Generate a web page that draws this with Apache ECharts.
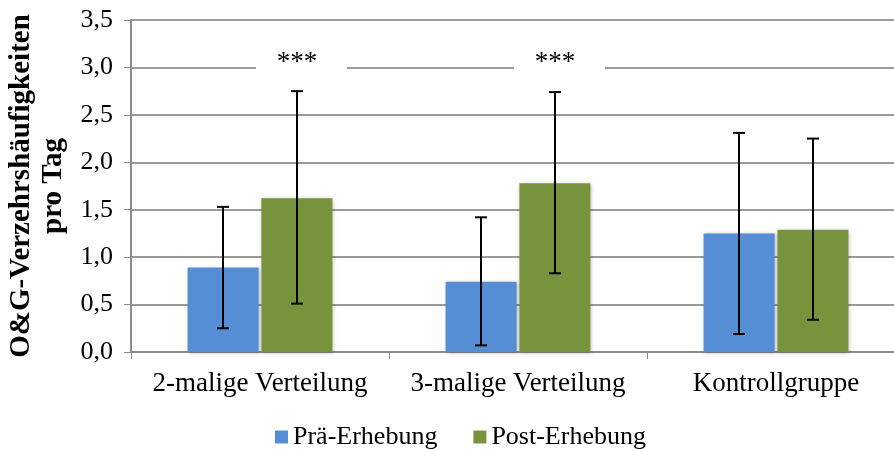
<!DOCTYPE html>
<html>
<head>
<meta charset="utf-8">
<script src="https://cdn.jsdelivr.net/npm/echarts@6/dist/echarts.min.js"></script>
<style>html,body{margin:0;padding:0;background:#fff}#c{width:894px;height:452px}</style>
</head>
<body>
<div id="c"></div>
<script>
var categories = ['2-malige Verteilung', '3-malige Verteilung', 'Kontrollgruppe'];
var seriesNames = ['Prä-Erhebung', 'Post-Erhebung'];
var preValues = [0.89, 0.74, 1.25];
var postValues = [1.62, 1.78, 1.29];
var preLow = [0.25, 0.07, 0.19];
var preHigh = [1.53, 1.42, 2.31];
var postLow = [0.51, 0.83, 0.34];
var postHigh = [2.75, 2.74, 2.25];
var yTicks = ['0,0', '0,5', '1,0', '1,5', '2,0', '2,5', '3,0', '3,5'];
var sigCats = [0, 1];
var sigLevel = 3.0;
var sigText = '***';

var FONT = '"Liberation Serif", "Times New Roman", serif';
var BAR_W = 71;
var BAR_OFF = 37;

function errData(lo, hi) {
  return categories.map(function (c, i) { return [i, lo[i], hi[i]]; });
}
function errRender(off) {
  return function (params, api) {
    var x = api.coord([api.value(0), 0])[0] + off;
    var yl = api.coord([api.value(0), api.value(1)])[1];
    var yh = api.coord([api.value(0), api.value(2)])[1];
    var st = { stroke: '#000', lineWidth: 2 };
    return {
      type: 'group',
      children: [
        { type: 'line', shape: { x1: x, y1: yl, x2: x, y2: yh }, style: st },
        { type: 'line', shape: { x1: x - 6, y1: yl, x2: x + 6, y2: yl }, style: st },
        { type: 'line', shape: { x1: x - 6, y1: yh, x2: x + 6, y2: yh }, style: st }
      ]
    };
  };
}

var chart = echarts.init(document.getElementById('c'), null, { renderer: 'canvas' });
chart.setOption({
  animation: false,
  backgroundColor: '#fff',
  textStyle: { fontFamily: FONT },
  grid: { left: 131, right: -11, top: 20, bottom: 100, containLabel: false, outerBoundsMode: 'none' },
  legend: {
    top: 419,
    left: 270,
    itemWidth: 13,
    itemHeight: 13,
    itemGap: 36,
    icon: 'rect',
    textStyle: { fontFamily: FONT, fontSize: 26, color: '#000' },
    data: seriesNames
  },
  xAxis: {
    type: 'category',
    data: categories,
    axisLine: { lineStyle: { color: '#8c8c8c', width: 2 } },
    axisTick: { show: true, length: 7, lineStyle: { color: '#8c8c8c', width: 1 } },
    axisLabel: { fontFamily: FONT, fontSize: 27, color: '#000', margin: 18, interval: 0, hideOverlap: false },
    splitLine: { show: false }
  },
  yAxis: {
    type: 'value',
    min: 0,
    max: 3.5,
    interval: 0.5,
    name: 'O&G-Verzehrshäufigkeiten\npro Tag',
    nameLocation: 'middle',
    nameRotate: 90,
    nameGap: 61,
    nameTextStyle: { fontFamily: FONT, fontSize: 29, fontWeight: 'bold', color: '#000', lineHeight: 32 },
    axisLine: { show: true, lineStyle: { color: '#8c8c8c', width: 2 } },
    axisTick: { show: true, length: 7, lineStyle: { color: '#8c8c8c', width: 1 } },
    axisLabel: {
      fontFamily: FONT, fontSize: 26, color: '#000', margin: 18,
      formatter: function (v) { return yTicks[Math.round(v / 0.5)]; }
    },
    splitLine: { show: true, lineStyle: { color: '#9a9a9a', width: 2 } }
  },
  series: [
    {
      name: seriesNames[0], type: 'bar', data: preValues, barWidth: BAR_W, barGap: '4%',
      itemStyle: { color: '#558ED5', shadowColor: 'rgba(0,0,0,0.25)', shadowBlur: 4, shadowOffsetX: 1, shadowOffsetY: 1 }
    },
    {
      name: seriesNames[1], type: 'bar', data: postValues, barWidth: BAR_W, barGap: '4%',
      itemStyle: { color: '#77933C', shadowColor: 'rgba(0,0,0,0.25)', shadowBlur: 4, shadowOffsetX: 1, shadowOffsetY: 1 }
    },
    {
      type: 'custom', name: 'errPre', data: errData(preLow, preHigh),
      renderItem: errRender(-BAR_OFF), z: 5, silent: true, legendHoverLink: false
    },
    {
      type: 'custom', name: 'errPost', data: errData(postLow, postHigh),
      renderItem: errRender(BAR_OFF), z: 5, silent: true, legendHoverLink: false
    },
    {
      type: 'custom', name: 'sig', z: 6, silent: true,
      data: sigCats.map(function (c) { return [c, sigLevel]; }),
      renderItem: function (params, api) {
        var p = api.coord([api.value(0), api.value(1)]);
        var bx = p[0] - 4;
        return {
          type: 'group',
          children: [
            { type: 'rect', shape: { x: bx, y: p[1] - 22, width: 91, height: 30 }, style: { fill: '#fff' } },
            { type: 'text', style: { x: bx + 41, y: p[1] - 5, text: sigText, fill: '#000', font: '27px ' + FONT, textAlign: 'center', textVerticalAlign: 'middle' } }
          ]
        };
      }
    }
  ]
});
</script>
</body>
</html>
